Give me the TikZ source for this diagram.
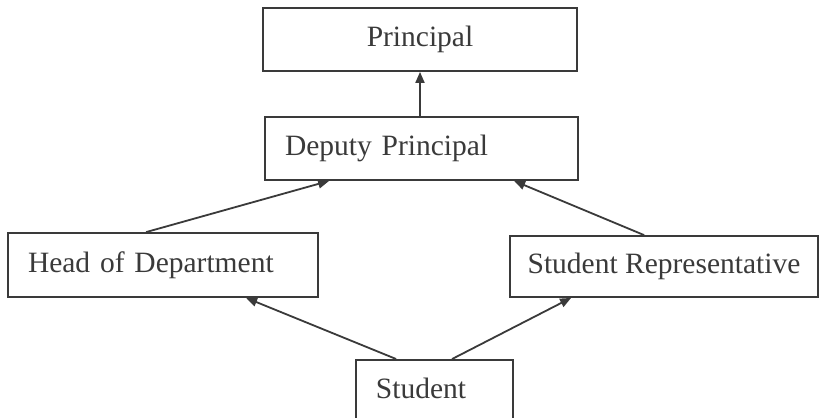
\documentclass[tikz,border=0pt]{standalone}
\usepackage{fontspec}
\setmainfont{Liberation Serif}
\usetikzlibrary{arrows.meta}
\definecolor{ink}{HTML}{3A3A3A}
\begin{document}
\begin{tikzpicture}[x=1pt,y=-1pt,
  box/.style={draw=ink, line width=1.8pt, rectangle, text=ink, inner ysep=0pt,
    font=\fontsize{29.5}{32}\selectfont, anchor=center},
  lbox/.style={box, align=left, inner xsep=20pt},
  arr/.style={draw=ink, line width=1.8pt, -{Triangle[length=11pt,width=9pt]}}]
\path[use as bounding box, clip] (0,0) rectangle (823,418);
\fill[white] (0,0) rectangle (823,418);
\node[box, minimum width=314pt, minimum height=63pt] (prin) at (420,39.5) {Principal};
\node[lbox, text width=273pt, minimum height=63pt] (dep) at (421.5,148.5) {Deputy Principal};
\node[lbox, text width=270pt, minimum height=64pt] (hod) at (163,265) {Head of Department};
\node[box, minimum width=308pt, minimum height=61pt] (sr) at (664,266.5) {Student Representative};
\node[box, minimum width=157pt, minimum height=70pt, anchor=north] (stu) at (434.5,359) {};
\node[text=ink, font=\fontsize{29.5}{32}\selectfont, anchor=center] (stut) at (421,388) {Student};
\draw[arr] (dep.north -| prin.south) -- (prin.south);
\draw[arr] ([xshift=139pt]hod.north west) -- ([xshift=65pt]dep.south west);
\draw[arr] ([xshift=135pt]sr.north west) -- ([xshift=250pt]dep.south west);
\draw[arr] ([xshift=41pt]stu.north west) -- ([xshift=239pt]hod.south west);
\draw[arr] ([xshift=97pt]stu.north west) -- ([xshift=62pt]sr.south west);
\end{tikzpicture}
\end{document}
